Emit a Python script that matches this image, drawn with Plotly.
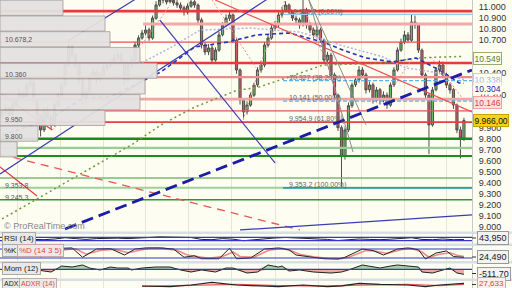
import numpy as np
import plotly.graph_objects as go

# ------------------------------------------------------------------ data
candle_open = [
    10000, 10040, 10080, 10020, 10100, 10150, 10215, 10180, 10285, 10315,
    10150, 10015, 9880, 10060, 10000, 9925, 10105, 10195, 10290, 10470,
    10635, 10560, 10470, 10335, 10150, 10225, 10350, 10405, 10335, 10380,
    10445, 10470, 10495, 10535, 10560, 10495, 10335, 10470, 10515, 10650,
    10715, 10760, 10790, 10715, 10895, 11015, 11060, 11090, 11045, 11060,
    11035, 11015, 10990, 10950, 11005, 11045, 11015, 10880, 10650, 10590,
    10625, 10515, 10605, 10745, 10835, 10895, 10925, 10695, 10425, 10150,
    10045, 10105, 10195, 10290, 10425, 10470, 10650, 10715, 10805, 10835,
    10925, 10970, 11015, 10950, 10895, 10880, 10835, 10970, 10835, 10790,
    10745, 10790, 10695, 10515, 10560, 10380, 10195, 9900, 9640, 9880,
    10100, 10290, 10335, 10425, 10380, 10245, 10290, 10150, 10245, 10150,
    10195, 10105, 10290, 10425, 10605, 10680, 10745, 10695, 10860, 10835,
    10605, 10380, 10195, 9925, 10245, 10425, 10470, 10380, 10290, 10245,
    10105, 9880, 9805]
candle_high = [
    10070, 10110, 10095, 10130, 10180, 10250, 10240, 10320, 10350, 10330,
    10170, 10030, 10080, 10090, 10020, 10130, 10220, 10310, 10490, 10680,
    10660, 10580, 10490, 10350, 10260, 10380, 10440, 10430, 10410, 10470,
    10500, 10530, 10570, 10600, 10590, 10510, 10490, 10550, 10680, 10740,
    10790, 10830, 10810, 10920, 11050, 11100, 11120, 11110, 11090, 11080,
    11060, 11040, 11010, 11030, 11070, 11060, 11030, 10900, 10680, 10660,
    10650, 10630, 10770, 10860, 10930, 10960, 10940, 10710, 10440, 10170,
    10140, 10220, 10310, 10450, 10510, 10680, 10750, 10840, 10870, 10950,
    11000, 11050, 11030, 10970, 10920, 10900, 11070, 10990, 10860, 10810,
    10820, 10810, 10710, 10590, 10580, 10400, 10210, 9920, 9900, 10130,
    10310, 10370, 10460, 10450, 10400, 10320, 10310, 10270, 10260, 10230,
    10220, 10310, 10450, 10630, 10710, 10780, 10770, 10930, 10920, 10850,
    10620, 10400, 10210, 10270, 10450, 10510, 10500, 10400, 10310, 10260,
    10120, 9910, 9990]
candle_low = [
    9975, 10020, 9990, 10005, 10080, 10135, 10150, 10170, 10260, 10130,
    9990, 9820, 9860, 9970, 9890, 9910, 10090, 10180, 10270, 10450,
    10530, 10440, 10300, 10100, 10120, 10210, 10330, 10300, 10310, 10360,
    10420, 10450, 10470, 10510, 10470, 10290, 10320, 10450, 10500, 10630,
    10700, 10740, 10690, 10700, 10880, 11000, 11030, 11020, 11030, 11010,
    10990, 10960, 10920, 10930, 10990, 10990, 10850, 10620, 10560, 10560,
    10490, 10500, 10590, 10730, 10820, 10870, 10670, 10390, 10110, 9990,
    10020, 10090, 10180, 10270, 10400, 10450, 10630, 10700, 10780, 10810,
    10900, 10950, 10930, 10870, 10850, 10800, 10820, 10800, 10760, 10710,
    10720, 10670, 10480, 10490, 10350, 10160, 9870, 9353, 9610, 9860,
    10080, 10270, 10310, 10350, 10210, 10220, 10120, 10130, 10110, 10130,
    10070, 10090, 10270, 10410, 10590, 10660, 10670, 10680, 10800, 10580,
    10350, 10160, 9660, 9910, 10230, 10400, 10350, 10260, 10210, 10070,
    9850, 9620, 9780]
candle_close = [
    10043, 10079, 10016, 10106, 10152, 10216, 10179, 10288, 10316, 10152,
    10016, 9879, 10061, 9997, 9925, 10106, 10197, 10288, 10470, 10634,
    10561, 10470, 10334, 10152, 10225, 10352, 10407, 10334, 10379, 10443,
    10470, 10497, 10534, 10561, 10497, 10334, 10470, 10515, 10652, 10716,
    10761, 10788, 10716, 10897, 11016, 11061, 11088, 11043, 11061, 11034,
    11016, 10988, 10952, 11006, 11043, 11016, 10879, 10652, 10588, 10625,
    10515, 10606, 10743, 10834, 10897, 10925, 10697, 10425, 10152, 10043,
    10106, 10197, 10288, 10425, 10470, 10652, 10716, 10806, 10834, 10925,
    10970, 11016, 10952, 10897, 10879, 10834, 10970, 10834, 10788, 10743,
    10788, 10697, 10515, 10561, 10379, 10197, 9900, 9640, 9880, 10100,
    10288, 10334, 10425, 10379, 10243, 10288, 10152, 10243, 10152, 10197,
    10106, 10288, 10425, 10606, 10679, 10743, 10697, 10861, 10834, 10606,
    10379, 10197, 9925, 10243, 10425, 10470, 10379, 10288, 10243, 10106,
    9879, 9806, 9966]
candle_idx = list(range(len(candle_close)))

# volume-by-price profile
profile_price = [10990, 10847, 10704, 10561, 10418, 10275, 10132, 9989, 9846, 9703]
profile_volume = [63, 105, 110, 140, 157, 145, 140, 105, 38, 17]

# horizontal support / resistance levels
level_price = [10960, 10843, 10678.2, 10488, 10360, 10160, 10052, 9950,
               9800, 9716, 9643, 9443, 9353.8, 9245.3]
level_text = ["", "", "10.678,2", "", "10.360", "", "", "9.950",
              "9.800", "", "", "", "9.353,8", "9.245,3"]

# Fibonacci retracement
fib_price = [10929.7, 10327, 10141, 9954.9, 9353.2]
fib_text = ["10.929,7 (0,00%)", "10.327 (38,20%)", "10.141 (50,00%)",
            "9.954,9 (61,80%)", "9.353,2 (100,00%)"]

# trend lines (bar index, price)
trend_up_x = [-0.6, 78];        trend_up_y = [9479, 11115]
channel_x = [18.9, 40];         channel_y = [10690, 11106]
trend_down_x = [45.1, 78];      trend_down_y = [10879, 9579]
big_dash_x = [18, 134.3];       big_dash_y = [8979, 10425]
red_down_x = [60.9, 134.3];     red_down_y = [11061, 10043]
red_short1_x = [-0.6, 14.3];    red_short1_y = [10216, 9879]
red_short2_x = [-0.6, 10];      red_short2_y = [9543, 9279]
red_dash_x = [-0.6, 85.1];      red_dash_y = [9661, 8970]
gray_a_x = [87.7, 100.3];       gray_a_y = [11061, 9679]
gray_b_x = [87.7, 104];         gray_b_y = [11061, 9925]
blue_low_x = [68, 134.3];       blue_low_y = [8970, 9107]
zig1_x = [14.3, 40.3, 48];      zig1_y = [9879, 10670, 11016]
zig2_x = [60, 72.6];            zig2_y = [11061, 10443]
zig3_x = [68.9, 74.3, 80.9];    zig3_y = [9970, 10515, 11061]
zig4_x = [86, 94.6, 98];        zig4_y = [11016, 10334, 9879]
zig5_x = [111.7, 117.4];        zig5_y = [10270, 10534]
zig6_x = [122.6, 131.3];        zig6_y = [10543, 10179]

# moving averages
ma_fast_x = [0, 8.9, 14.6, 23.1, 30.9, 36, 45.4, 55.1, 64.6, 72.6, 82, 91.7,
             97.4, 104, 111.7, 118.3, 122, 126, 130.6, 132]
ma_fast_y = [9834, 9925, 9997, 10170, 10179, 10261, 10407, 10634, 10679, 10743,
             10761, 10679, 10606, 10534, 10497, 10534, 10470, 10407, 10307, 10304]
ma_mid_x = [16.6, 22.3, 36, 48, 56.6, 70.9, 85.1, 96.6, 108.9, 115.4, 123.1, 132]
ma_mid_y = [10043, 10125, 10425, 10625, 10788, 10806, 10770, 10652, 10543,
            10443, 10407, 10338]
ma_slow_x = [0, 37.4, 45.4, 55.1, 67.4, 72.6, 82, 91.7, 109.1, 118.6, 132]
ma_slow_y = [9070, 9752, 9925, 10088, 10243, 10261, 10361, 10470, 10488, 10534, 10549]

# RSI (14)
rsi_x = list(range(9, 133, 3))
rsi_y = [45, 42, 50, 65, 55, 45, 55, 58, 60, 55, 65, 68, 75, 72, 68, 68, 45, 42,
         55, 48, 30, 42, 55, 62, 68, 62, 60, 56, 45, 32, 42, 50, 45, 42, 48, 58,
         65, 45, 42, 50, 42, 43.95]
# Stochastic %K / %D (14 3 5)
stk_x = [9, 11, 14, 17, 20, 23, 27, 31, 35, 38, 41, 45, 49, 52, 55, 57, 62, 65, 67,
         71, 75, 79, 82, 84, 88, 92, 96, 98, 103, 106, 109, 113, 116, 119, 121,
         124, 127, 129, 132]
stk_y = [75, 27, 50, 85, 87, 25, 80, 82, 40, 80, 87, 87, 80, 25, 35, 15, 15, 85, 15,
         20, 80, 87, 75, 40, 27, 15, 13, 25, 80, 70, 40, 80, 87, 75, 13, 53, 67,
         30, 24.49]
std_x = [9, 12, 15, 18, 21, 24, 28, 32, 36, 39, 42, 46, 50, 53, 56, 59, 63, 66, 68,
         72, 76, 80, 83, 85, 89, 93, 97, 99, 104, 107, 110, 114, 117, 120, 122,
         125, 128, 130, 132]
std_y = [70, 45, 50, 75, 82, 45, 70, 78, 55, 72, 85, 86, 70, 40, 30, 18, 30, 60, 30,
         25, 70, 85, 65, 45, 28, 18, 15, 25, 70, 65, 50, 75, 85, 60, 25, 45, 55,
         38, 30]
# Momentum (12)
mom_x = [10, 14, 16, 17, 20, 23, 25, 28, 31, 33, 36, 37, 40, 44, 48, 51, 54, 57, 61,
         64, 66, 70, 73, 76, 79, 80, 82, 85, 89, 94, 97, 99, 103, 106, 108, 111,
         113, 116, 119, 120, 123, 126, 128, 130, 132]
mom_y = [-70, -275, 130, 335, 235, 440, 130, -70, 235, 130, 130, -70, 130, 235, 235,
         -70, -275, -70, -275, 130, 130, -380, -275, 440, 235, 335, -175, -70, -275,
         -380, -275, -70, 440, 235, 130, 335, 440, 335, 235, -275, -380, -70, 130,
         -380, -511.7]
# ADX / ADXR (14)
adx_x = [40, 48, 54, 60, 67, 73, 79, 86, 93, 97, 102, 108, 116, 121, 125, 132]
adx_y = [20, 16.5, 25, 38, 25, 21, 16.5, 25, 16.5, 21, 33, 28, 25, 16.5, 25, 33]
adxr_x = [40, 54, 67, 79, 93, 102, 116, 125, 132]
adxr_y = [18, 22, 28, 22, 20, 24, 28, 22, 27.633]

price_ticks = [9000, 9100, 9200, 9300, 9400, 9500, 9600, 9700, 9800, 9900,
               10200, 10400, 10700, 10800, 10900, 11000]

# ------------------------------------------------------------------ styling
W, H = 512, 288
XR = 472 / W
X_MIN, X_MAX = -0.6, 134.3
FONT = "Liberation Sans"
BG = "#fdfdf1"
SEP = "#d6dfe5"
FIB_START = 80.3

level_style = [  # color, width, start index
    ("#e83a3a", 2.6, X_MIN), ("#f4a8a8", 3, 40.3), ("#e05555", 1.3, X_MIN),
    ("#e83a3a", 2.4, X_MIN), ("#ee8c8c", 2.4, X_MIN), ("#f2a4a4", 2.6, X_MIN),
    ("#e05555", 1.3, X_MIN), ("#e04040", 1.8, X_MIN), ("#168c16", 2.6, X_MIN),
    ("#96cf96", 2.2, X_MIN), ("#1a8f1a", 2, X_MIN), ("#74bd74", 1.6, X_MIN),
    ("#9ad29a", 2, X_MIN), ("#2a9a2a", 1.6, X_MIN)]
fib_style = [("#8ccbf2", 1.2, "solid"), ("#55b5ee", 1.3, "4px,2px"),
             ("#55b5ee", 1.3, "4px,2px"), ("rgba(0,0,0,0)", 1, "solid"),
             ("#2aa0a0", 1.8, "solid")]


def yp(py):
    return 1 - py / H


def dom(top, bottom):
    return [1 - bottom / H, 1 - top / H]


fig = go.Figure()

# volume profile
fig.add_trace(go.Bar(
    x=profile_volume, y=profile_price, orientation="h", width=138, base=0,
    xaxis="x2", yaxis="y",
    marker=dict(color="rgba(228,224,224,0.95)", line=dict(color="#a39a9a", width=0.8)),
    hoverinfo="skip", showlegend=False))

# levels
for p, (c, w, x0) in zip(level_price, level_style):
    fig.add_trace(go.Scatter(x=[x0, X_MAX], y=[p, p], mode="lines",
                             line=dict(color=c, width=w), hoverinfo="skip", showlegend=False))
for p, (c, w, d) in zip(fib_price, fib_style):
    fig.add_trace(go.Scatter(x=[FIB_START, X_MAX], y=[p, p], mode="lines",
                             line=dict(color=c, width=w, dash=d), hoverinfo="skip", showlegend=False))

# moving averages under candles
fig.add_trace(go.Scatter(x=ma_slow_x, y=ma_slow_y, mode="lines",
                         line=dict(color="#6f9a3a", width=1.5, dash="2px,3px"), showlegend=False))
fig.add_trace(go.Scatter(x=ma_mid_x, y=ma_mid_y, mode="lines",
                         line=dict(color="#b4b4e6", width=1.5, dash="2px,2px"), showlegend=False))

# candles
fig.add_trace(go.Candlestick(
    x=candle_idx, open=candle_open, high=candle_high, low=candle_low, close=candle_close,
    increasing=dict(fillcolor="#66bd66", line=dict(color="#4f4f4f", width=1)),
    decreasing=dict(fillcolor="#cf5f5f", line=dict(color="#4f4f4f", width=1)),
    whiskerwidth=0, showlegend=False, hoverinfo="skip"))

fig.add_trace(go.Scatter(x=ma_fast_x, y=ma_fast_y, mode="lines",
                         line=dict(color="#2434b4", width=1.6, dash="4px,3px"), showlegend=False))


def seg(xs, ys, color, width, dash="solid"):
    fig.add_trace(go.Scatter(x=xs, y=ys, mode="lines", line=dict(color=color, width=width, dash=dash),
                             hoverinfo="skip", showlegend=False))


for zx, zy in [(zig1_x, zig1_y), (zig2_x, zig2_y), (zig3_x, zig3_y),
               (zig4_x, zig4_y), (zig5_x, zig5_y), (zig6_x, zig6_y)]:
    seg(zx, zy, "#f08c8c", 1, "2px,2px")
seg(red_dash_x, red_dash_y, "#ea5555", 1.3, "8px,6px")
seg(red_short1_x, red_short1_y, "#e03c3c", 1.3)
seg(red_short2_x, red_short2_y, "#e03c3c", 1.2)
seg(red_down_x, red_down_y, "#e85050", 1.2)
seg(gray_a_x, gray_a_y, "#8a8a8a", 1)
seg(gray_b_x, gray_b_y, "#8a8a8a", 1)
seg(trend_up_x, trend_up_y, "#3b3bb4", 1.2)
seg(channel_x, channel_y, "#3b3bb4", 1.2)
seg(trend_down_x, trend_down_y, "#3b3bb4", 1.2)
seg(blue_low_x, blue_low_y, "#3b3bb4", 1.2)
seg(big_dash_x, big_dash_y, "#1c1ca6", 2.8, "12px,6px")

# ---- indicator panels
fig.add_trace(go.Scatter(x=rsi_x, y=rsi_y, yaxis="y2", mode="lines",
                         line=dict(color="#222", width=1), showlegend=False))
fig.add_trace(go.Scatter(x=std_x, y=std_y, yaxis="y3", mode="lines",
                         line=dict(color="#f08a8a", width=1.6), showlegend=False))
fig.add_trace(go.Scatter(x=stk_x, y=stk_y, yaxis="y3", mode="lines",
                         line=dict(color="#222", width=1), showlegend=False))
mom = np.array(mom_y, dtype=float)
fig.add_trace(go.Scatter(x=mom_x, y=np.clip(mom, 0, None), yaxis="y4", mode="lines",
                         fill="tozeroy", fillcolor="rgba(120,185,120,0.65)",
                         line=dict(width=0), showlegend=False))
fig.add_trace(go.Scatter(x=mom_x, y=np.clip(mom, None, 0), yaxis="y4", mode="lines",
                         fill="tozeroy", fillcolor="rgba(220,120,120,0.6)",
                         line=dict(width=0), showlegend=False))
fig.add_trace(go.Scatter(x=mom_x, y=mom_y, yaxis="y4", mode="lines",
                         line=dict(color="#222", width=1), showlegend=False))
fig.add_trace(go.Scatter(x=adxr_x, y=adxr_y, yaxis="y5", mode="lines",
                         line=dict(color="#e85a5a", width=1.3), showlegend=False))
fig.add_trace(go.Scatter(x=adx_x, y=adx_y, yaxis="y5", mode="lines",
                         line=dict(color="#222", width=1.2), showlegend=False))

# ---- shapes: separators and reference lines
shapes = []
for top, bot in [(231.5, 234), (243.5, 246), (261, 263.5), (278.5, 281)]:
    shapes.append(dict(type="rect", xref="paper", yref="paper", x0=0, x1=1,
                       y0=yp(bot), y1=yp(top), fillcolor=SEP, line=dict(width=0), layer="below"))
for ax, val in [("y2", 70), ("y2", 30), ("y3", 80), ("y3", 20), ("y4", 0)]:
    shapes.append(dict(type="line", xref="paper", yref=ax, x0=0, x1=XR, y0=val, y1=val,
                       line=dict(color="#3535d0", width=1.2)))
for py in [238, 257, 273.5, 284.5]:
    shapes.append(dict(type="line", xref="paper", yref="paper", x0=XR, x1=476 / W,
                       y0=yp(py), y1=yp(py), line=dict(color="#333", width=1)))

# ---- annotations
ann = []


def label(x_px, y_px, text, size=9, color="#222", bg=None, border=None):
    d = dict(x=x_px / W, y=yp(y_px), xref="paper", yref="paper", text=text, showarrow=False,
             xanchor="left", yanchor="middle", borderpad=1,
             font=dict(family=FONT, size=size, color=color))
    if bg:
        d["bgcolor"] = bg
    if border:
        d.update(bordercolor=border, borderwidth=1)
    ann.append(d)


for p, t in zip(level_price, level_text):
    if t:
        ann.append(dict(x=3 / W, xref="paper", y=p, yref="y", yshift=2.5, text=t,
                        showarrow=False, xanchor="left", yanchor="middle",
                        font=dict(family=FONT, size=7, color="#555")))
for p, t in zip(fib_price, fib_text):
    ann.append(dict(x=FIB_START + 1, xref="x", y=p, yref="y", yshift=2.8, text=t,
                    showarrow=False, xanchor="left", yanchor="middle",
                    font=dict(family=FONT, size=7, color="#666")))

# price tags on the right
tags = [(10549, "10.549", "#5f7d20", BG, "#9aaa70", -2),
        (10338, "10.338", "#b0b0e0", BG, "#c8c8ea", 0),
        (10304, "10.304", "#2424a8", BG, None, -5),
        (10160, "10.146", "#e04040", "#fde2e2", "#f0a0a0", -3.5),
        (9966, "9.966,00", "#111", "#f6d21a", "#c9a400", -0.5)]
for v, t, fc, bg, bc, ys in tags:
    d = dict(x=473 / W, xref="paper", y=v, yref="y", yshift=ys, text=t, showarrow=False,
             xanchor="left", yanchor="middle", bgcolor=bg, borderpad=0.5,
             font=dict(family=FONT, size=8.5, color=fc))
    if bc:
        d.update(bordercolor=bc, borderwidth=1)
    ann.append(d)

label(2, 225.5, "© ProRealTime.com", size=9, color="#888")
label(2, 238.5, "RSI (14)", size=8, bg="#e8e8e8", border="#aaa")
label(2, 250.5, "%K", size=8, bg="#e8e8e8", border="#aaa")
label(17, 250.5, "%D (14 3 5)", size=8, color="#e04848", bg="#efe8e8", border="#c8a8a8")
label(2, 268, "Mom (12)", size=8, bg="#e8e8e8", border="#aaa")
label(2, 283.8, "ADX", size=7, bg="#e8e8e8", border="#aaa")
label(19, 283.8, "ADXR (14)", size=7, color="#e04848", bg="#efe8e8", border="#c8a8a8")
label(477, 238, "43,950", size=9, bg="#f3f3f3", border="#999")
label(477, 257, "24,490", size=9, bg="#f3f3f3", border="#999")
label(477, 273.5, "-511,70", size=9, bg="#f3f3f3", border="#999")
label(477, 283.8, "27,633", size=8, color="#e04040", bg="#fbeeee", border="#e0a0a0")

grid_idx = [4.3, 16.6, 28.9, 41.1, 53.4, 65.7, 78, 90.3, 102.6, 114.9, 127.1]

sub_axis = dict(side="right", anchor="x", showgrid=False, zeroline=False,
                showticklabels=False, ticks="", showline=True, linecolor="#c8c8c8", linewidth=1)

fig.update_layout(
    width=W, height=H, margin=dict(l=0, r=0, t=0, b=0),
    paper_bgcolor=BG, plot_bgcolor=BG, showlegend=False,
    font=dict(family=FONT, size=9, color="#333"),
    boxgap=0.12,
    xaxis=dict(domain=[0, XR], range=[X_MIN, X_MAX], anchor="y", showticklabels=False,
               tickvals=grid_idx, showgrid=True, gridcolor="#e8e5d2", gridwidth=1,
               zeroline=False, ticks="", rangeslider=dict(visible=False), fixedrange=True),
    xaxis2=dict(domain=[0, XR], range=[0, 472], overlaying="x", anchor="y", visible=False),
    yaxis=dict(domain=dom(0, 231.5), range=[8956, 11061], side="right", anchor="x",
               tickvals=price_ticks, ticktext=[f"{v:,}".replace(",", ".") for v in price_ticks],
               showgrid=False, zeroline=False, ticks="", ticklabelstandoff=4,
               tickfont=dict(family=FONT, size=9, color="#333"),
               showline=True, linecolor="#c8c8c8", linewidth=1),
    yaxis2=dict(domain=dom(234, 243.5), range=[-2.9, 108.8], **sub_axis),
    yaxis3=dict(domain=dom(246, 261), range=[0, 100], **sub_axis),
    yaxis4=dict(domain=dom(263.5, 278.5), range=[-938, 592], **sub_axis),
    yaxis5=dict(domain=dom(281, 288), range=[10, 45], **sub_axis),
    shapes=shapes, annotations=ann, barmode="overlay",
)

fig.write_html("out.html", config={"displayModeBar": False})
